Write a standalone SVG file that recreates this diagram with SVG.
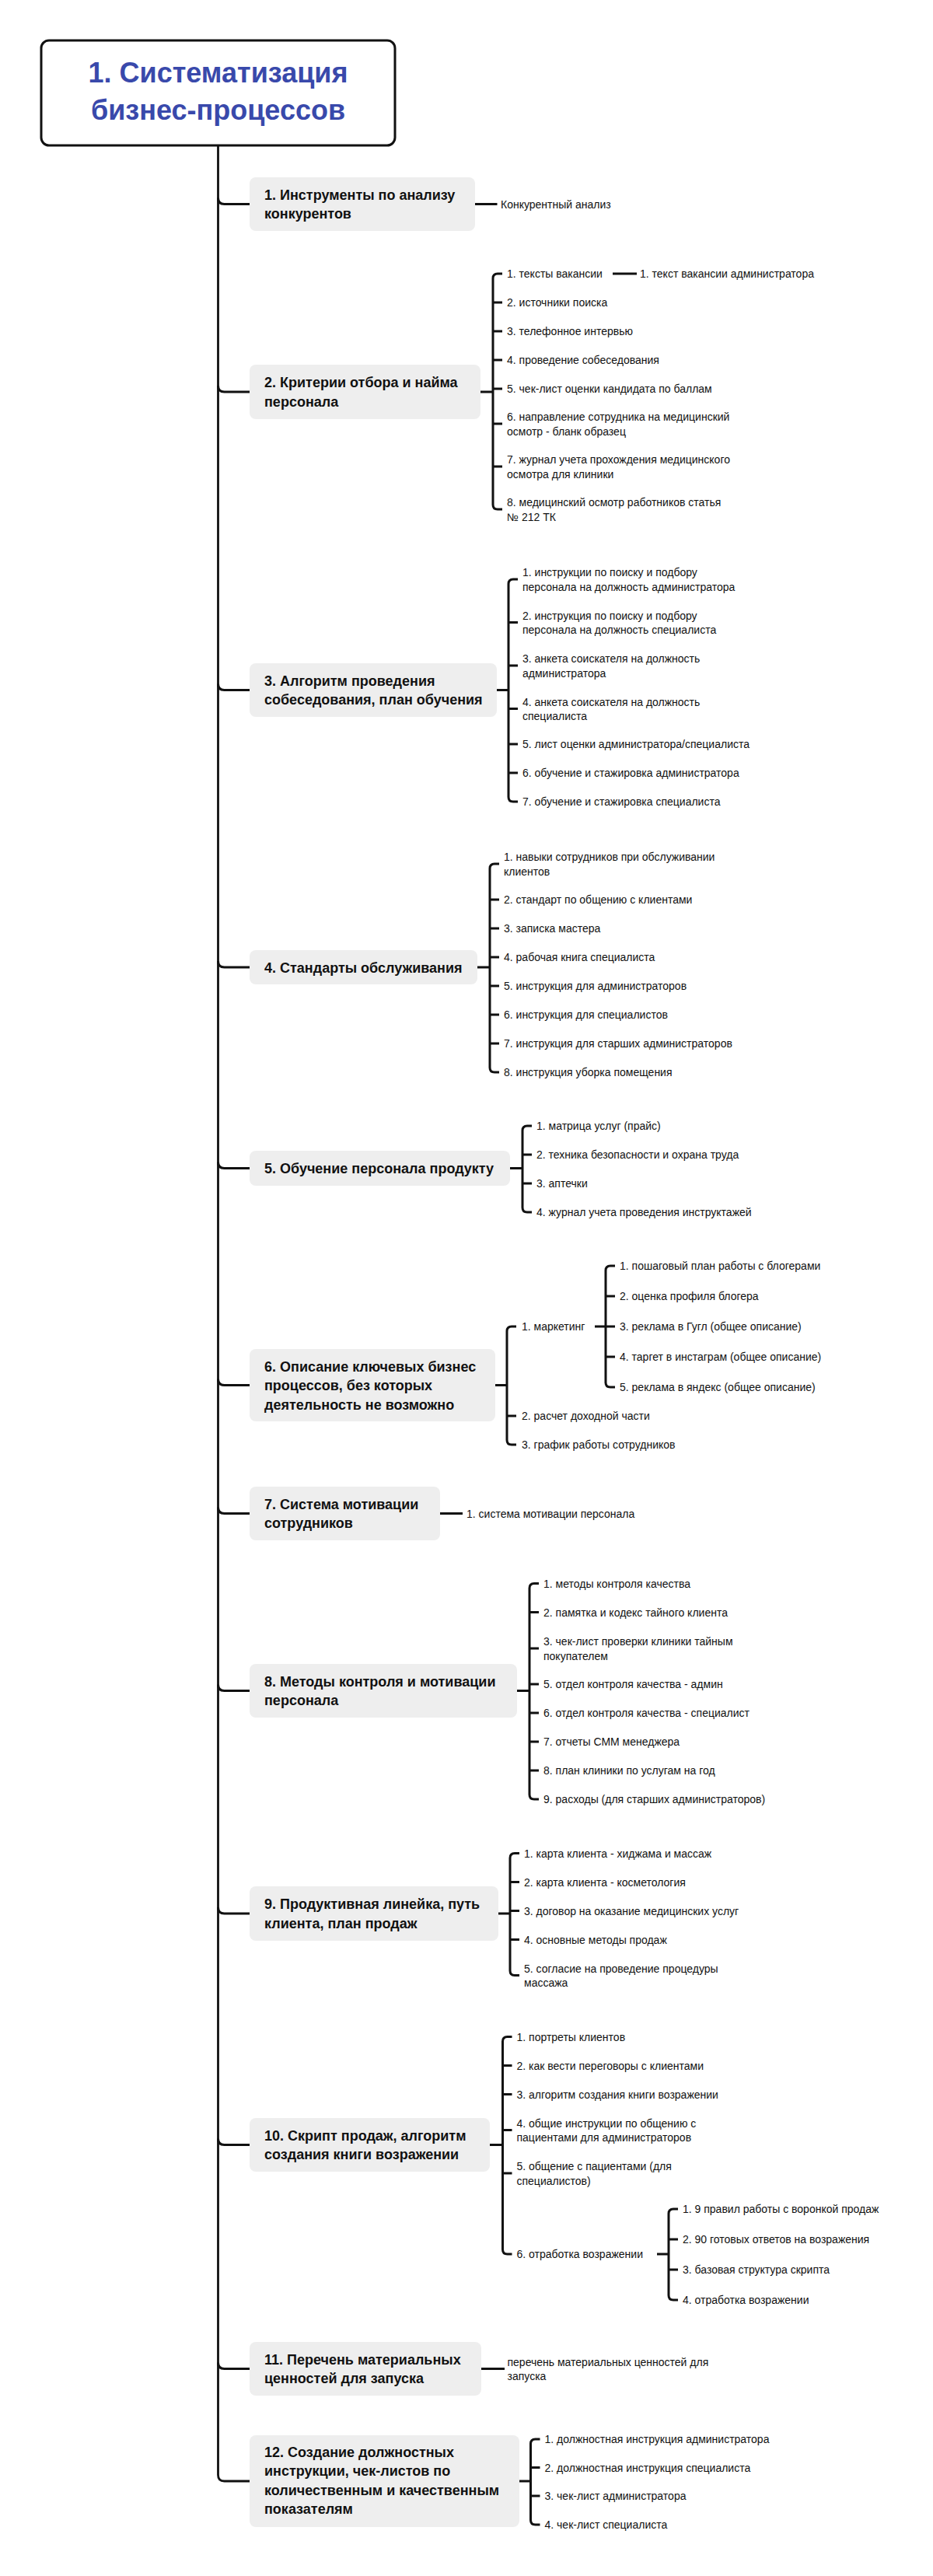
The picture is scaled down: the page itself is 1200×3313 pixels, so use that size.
<svg xmlns="http://www.w3.org/2000/svg" width="1200" height="3313" viewBox="0 0 1200 3313">
<style>
.bg{fill:#ffffff}
.box{fill:#eeeeee}
.title{fill:#ffffff;stroke:#111111;stroke-width:3}
.tt{font-family:"Liberation Sans",Arial,sans-serif;font-weight:bold;font-size:36px;fill:#3949ab;text-anchor:middle}
.nt{font-family:"Liberation Sans",Arial,sans-serif;font-weight:bold;font-size:18px;fill:#111111}
.lt{font-family:"Liberation Sans",Arial,sans-serif;font-size:14px;fill:#111111}
.c{fill:none;stroke:#111111;stroke-width:3}
.t{fill:none;stroke:#111111;stroke-width:2.8}
</style>
<rect class="bg" x="0" y="0" width="1200" height="3313"/>

<g id="connectors">
<path class="t" d="M280.5 187 V3183 Q280.5 3191 288.5 3191 H321"/>
<path class="c" d="M280.5 254.5 Q280.5 262.5 288.5 262.5 H321"/>
<path class="c" d="M280.5 496 Q280.5 504 288.5 504 H321"/>
<path class="c" d="M280.5 879.5 Q280.5 887.5 288.5 887.5 H321"/>
<path class="c" d="M280.5 1236 Q280.5 1244 288.5 1244 H321"/>
<path class="c" d="M280.5 1494.5 Q280.5 1502.5 288.5 1502.5 H321"/>
<path class="c" d="M280.5 1773.5 Q280.5 1781.5 288.5 1781.5 H321"/>
<path class="c" d="M280.5 1938.5 Q280.5 1946.5 288.5 1946.5 H321"/>
<path class="c" d="M280.5 2166.5 Q280.5 2174.5 288.5 2174.5 H321"/>
<path class="c" d="M280.5 2453 Q280.5 2461 288.5 2461 H321"/>
<path class="c" d="M280.5 2750.5 Q280.5 2758.5 288.5 2758.5 H321"/>
<path class="c" d="M280.5 3038.5 Q280.5 3046.5 288.5 3046.5 H321"/>

<!-- node 1 -->
<path class="c" d="M611 262.5 H639.5"/>
<!-- node 2 -->
<path class="c" d="M618 504 H634 M634 358 V649 M634 358 Q634 352 640 352 H646 M634 389 H646 M634 426 H646 M634 463 H646 M634 500 H646 M634 545 H646 M634 600 H646 M634 649 Q634 655 640 655 H646"/>
<path class="c" d="M788 352 H819"/>
<!-- node 3 -->
<path class="c" d="M639 887.5 H654 M654 751 V1025 M654 751 Q654 745 660 745 H666 M654 800.5 H666 M654 856 H666 M654 911.5 H666 M654 957 H666 M654 994 H666 M654 1025 Q654 1031 660 1031 H666"/>
<!-- node 4 -->
<path class="c" d="M614 1244 H630 M630 1117 V1373 M630 1117 Q630 1111 636 1111 H642 M630 1157 H642 M630 1194 H642 M630 1231 H642 M630 1268 H642 M630 1305 H642 M630 1342 H642 M630 1373 Q630 1379 636 1379 H642"/>
<!-- node 5 -->
<path class="c" d="M656 1502.5 H672 M672 1454 V1553 M672 1454 Q672 1448 678 1448 H684 M672 1485 H684 M672 1522 H684 M672 1553 Q672 1559 678 1559 H684"/>
<!-- node 6 -->
<path class="c" d="M637 1781.5 H652 M652 1712 V1852 M652 1712 Q652 1706 658 1706 H664 M652 1821 H664 M652 1852 Q652 1858 658 1858 H664"/>
<path class="c" d="M765 1706 H779 M779 1634 V1778 M779 1634 Q779 1628 785 1628 H791 M779 1667 H791 M779 1706 H791 M779 1745 H791 M779 1778 Q779 1784 785 1784 H791"/>
<!-- node 7 -->
<path class="c" d="M566 1946.5 H595"/>
<!-- node 8 -->
<path class="c" d="M665 2174.5 H681 M681 2042.5 V2308 M681 2042.5 Q681 2036.5 687 2036.5 H693 M681 2073.5 H693 M681 2120 H693 M681 2166 H693 M681 2203 H693 M681 2240 H693 M681 2277 H693 M681 2308 Q681 2314 687 2314 H693"/>
<!-- node 9 -->
<path class="c" d="M641 2461 H656 M656 2389.5 V2534.5 M656 2389.5 Q656 2383.5 662 2383.5 H668 M656 2420.5 H668 M656 2457.5 H668 M656 2494.5 H668 M656 2534.5 Q656 2540.5 662 2540.5 H668"/>
<!-- node 10 -->
<path class="c" d="M630 2758.5 H646.5 M646.5 2625.5 V2893 M646.5 2625.5 Q646.5 2619.5 652.5 2619.5 H658.5 M646.5 2656.5 H658.5 M646.5 2693.5 H658.5 M646.5 2739.5 H658.5 M646.5 2795 H658.5 M646.5 2893 Q646.5 2899 652.5 2899 H658.5"/>
<path class="c" d="M845 2899 H860 M860 2847 V2952 M860 2847 Q860 2841 866 2841 H872 M860 2880 H872 M860 2919 H872 M860 2952 Q860 2958 866 2958 H872"/>
<!-- node 11 -->
<path class="c" d="M619 3046.5 H649"/>
<!-- node 12 -->
<path class="c" d="M668 3191 H682.5 M682.5 3143 V3241 M682.5 3143 Q682.5 3137 688.5 3137 H694.5 M682.5 3173.5 H694.5 M682.5 3210 H694.5 M682.5 3241 Q682.5 3247 688.5 3247 H694.5"/>
</g>

<g id="root">
<rect class="title" x="53" y="52" width="455" height="135" rx="10"/>
<text class="tt" x="280.5" y="106">1. Систематизация</text>
<text class="tt" x="280.5" y="154">бизнес-процессов</text>
</g>

<g id="n1">
<rect class="box" x="321" y="228" width="290" height="69" rx="8"/>
<text class="nt" x="340" y="256.5">1. Инструменты по анализу</text>
<text class="nt" x="340" y="281">конкурентов</text>
<text class="lt" x="644" y="267.5">Конкурентный анализ</text>
</g>

<g id="n2">
<rect class="box" x="321" y="469" width="297" height="70" rx="8"/>
<text class="nt" x="340" y="498">2. Критерии отбора и найма</text>
<text class="nt" x="340" y="522.5">персонала</text>
<text class="lt" x="652" y="357">1. тексты вакансии</text>
<text class="lt" x="823" y="357">1. текст вакансии администратора</text>
<text class="lt" x="652" y="394">2. источники поиска</text>
<text class="lt" x="652" y="431">3. телефонное интервью</text>
<text class="lt" x="652" y="468">4. проведение собеседования</text>
<text class="lt" x="652" y="505">5. чек-лист оценки кандидата по баллам</text>
<text class="lt" x="652" y="541">6. направление сотрудника на медицинский</text>
<text class="lt" x="652" y="559.5">осмотр - бланк образец</text>
<text class="lt" x="652" y="596">7. журнал учета прохождения медицинского</text>
<text class="lt" x="652" y="614.5">осмотра для клиники</text>
<text class="lt" x="652" y="651">8. медицинский осмотр работников статья</text>
<text class="lt" x="652" y="669.5">№ 212 ТК</text>
</g>

<g id="n3">
<rect class="box" x="321" y="853" width="318" height="69" rx="8"/>
<text class="nt" x="340" y="881.5">3. Алгоритм проведения</text>
<text class="nt" x="340" y="906">собеседования, план обучения</text>
<text class="lt" x="672" y="741">1. инструкции по поиску и подбору</text>
<text class="lt" x="672" y="759.5">персонала на должность администратора</text>
<text class="lt" x="672" y="796.5">2. инструкция по поиску и подбору</text>
<text class="lt" x="672" y="815">персонала на должность специалиста</text>
<text class="lt" x="672" y="852">3. анкета соискателя на должность</text>
<text class="lt" x="672" y="870.5">администратора</text>
<text class="lt" x="672" y="907.5">4. анкета соискателя на должность</text>
<text class="lt" x="672" y="926">специалиста</text>
<text class="lt" x="672" y="962">5. лист оценки администратора/специалиста</text>
<text class="lt" x="672" y="999">6. обучение и стажировка администратора</text>
<text class="lt" x="672" y="1036">7. обучение и стажировка специалиста</text>
</g>

<g id="n4">
<rect class="box" x="321" y="1222" width="293" height="44" rx="8"/>
<text class="nt" x="340" y="1250.5">4. Стандарты обслуживания</text>
<text class="lt" x="648" y="1107">1. навыки сотрудников при обслуживании</text>
<text class="lt" x="648" y="1125.5">клиентов</text>
<text class="lt" x="648" y="1162">2. стандарт по общению с клиентами</text>
<text class="lt" x="648" y="1199">3. записка мастера</text>
<text class="lt" x="648" y="1236">4. рабочая книга специалиста</text>
<text class="lt" x="648" y="1273">5. инструкция для администраторов</text>
<text class="lt" x="648" y="1310">6. инструкция для специалистов</text>
<text class="lt" x="648" y="1347">7. инструкция для старших администраторов</text>
<text class="lt" x="648" y="1384">8. инструкция уборка помещения</text>
</g>

<g id="n5">
<rect class="box" x="321" y="1480" width="335" height="45" rx="8"/>
<text class="nt" x="340" y="1509">5. Обучение персонала продукту</text>
<text class="lt" x="690" y="1453">1. матрица услуг (прайс)</text>
<text class="lt" x="690" y="1490">2. техника безопасности и охрана труда</text>
<text class="lt" x="690" y="1527">3. аптечки</text>
<text class="lt" x="690" y="1564">4. журнал учета проведения инструктажей</text>
</g>

<g id="n6">
<rect class="box" x="321" y="1735" width="316" height="93" rx="8"/>
<text class="nt" x="340" y="1763.5">6. Описание ключевых бизнес</text>
<text class="nt" x="340" y="1788">процессов, без которых</text>
<text class="nt" x="340" y="1812.5">деятельность не возможно</text>
<text class="lt" x="671" y="1711">1. маркетинг</text>
<text class="lt" x="797" y="1633">1. пошаговый план работы с блогерами</text>
<text class="lt" x="797" y="1672">2. оценка профиля блогера</text>
<text class="lt" x="797" y="1711">3. реклама в Гугл (общее описание)</text>
<text class="lt" x="797" y="1750">4. таргет в инстаграм (общее описание)</text>
<text class="lt" x="797" y="1789">5. реклама в яндекс (общее описание)</text>
<text class="lt" x="671" y="1826">2. расчет доходной части</text>
<text class="lt" x="671" y="1863">3. график работы сотрудников</text>
</g>

<g id="n7">
<rect class="box" x="321" y="1912" width="245" height="69" rx="8"/>
<text class="nt" x="340" y="1940.5">7. Система мотивации</text>
<text class="nt" x="340" y="1965">сотрудников</text>
<text class="lt" x="600" y="1951.5">1. система мотивации персонала</text>
</g>

<g id="n8">
<rect class="box" x="321" y="2140" width="344" height="69" rx="8"/>
<text class="nt" x="340" y="2168.5">8. Методы контроля и мотивации</text>
<text class="nt" x="340" y="2193">персонала</text>
<text class="lt" x="699" y="2041.5">1. методы контроля качества</text>
<text class="lt" x="699" y="2078.5">2. памятка и кодекс тайного клиента</text>
<text class="lt" x="699" y="2116">3. чек-лист проверки клиники тайным</text>
<text class="lt" x="699" y="2134.5">покупателем</text>
<text class="lt" x="699" y="2171">5. отдел контроля качества - админ</text>
<text class="lt" x="699" y="2208">6. отдел контроля качества - специалист</text>
<text class="lt" x="699" y="2245">7. отчеты СММ менеджера</text>
<text class="lt" x="699" y="2282">8. план клиники по услугам на год</text>
<text class="lt" x="699" y="2319">9. расходы (для старших администраторов)</text>
</g>

<g id="n9">
<rect class="box" x="321" y="2426" width="320" height="70" rx="8"/>
<text class="nt" x="340" y="2455">9. Продуктивная линейка, путь</text>
<text class="nt" x="340" y="2479.5">клиента, план продаж</text>
<text class="lt" x="674" y="2388.5">1. карта клиента - хиджама и массаж</text>
<text class="lt" x="674" y="2425.5">2. карта клиента - косметология</text>
<text class="lt" x="674" y="2462.5">3. договор на оказание медицинских услуг</text>
<text class="lt" x="674" y="2499.5">4. основные методы продаж</text>
<text class="lt" x="674" y="2536.5">5. согласие на проведение процедуры</text>
<text class="lt" x="674" y="2555">массажа</text>
</g>

<g id="n10">
<rect class="box" x="321" y="2724" width="309" height="69" rx="8"/>
<text class="nt" x="340" y="2752.5">10. Скрипт продаж, алгоритм</text>
<text class="nt" x="340" y="2777">создания книги возражении</text>
<text class="lt" x="664.5" y="2624.5">1. портреты клиентов</text>
<text class="lt" x="664.5" y="2661.5">2. как вести переговоры с клиентами</text>
<text class="lt" x="664.5" y="2698.5">3. алгоритм создания книги возражении</text>
<text class="lt" x="664.5" y="2735.5">4. общие инструкции по общению с</text>
<text class="lt" x="664.5" y="2754">пациентами для администраторов</text>
<text class="lt" x="664.5" y="2791">5. общение с пациентами (для</text>
<text class="lt" x="664.5" y="2809.5">специалистов)</text>
<text class="lt" x="664.5" y="2904">6. отработка возражении</text>
<text class="lt" x="878" y="2846">1. 9 правил работы с воронкой продаж</text>
<text class="lt" x="878" y="2885">2. 90 готовых ответов на возражения</text>
<text class="lt" x="878" y="2924">3. базовая структура скрипта</text>
<text class="lt" x="878" y="2963">4. отработка возражении</text>
</g>

<g id="n11">
<rect class="box" x="321" y="3012" width="298" height="69" rx="8"/>
<text class="nt" x="340" y="3040.5">11. Перечень материальных</text>
<text class="nt" x="340" y="3065">ценностей для запуска</text>
<text class="lt" x="652.5" y="3042.5">перечень материальных ценностей для</text>
<text class="lt" x="652.5" y="3061">запуска</text>
</g>

<g id="n12">
<rect class="box" x="321" y="3132" width="347" height="118" rx="8"/>
<text class="nt" x="340" y="3160">12. Создание должностных</text>
<text class="nt" x="340" y="3184.3">инструкции, чек-листов по</text>
<text class="nt" x="340" y="3208.6">количественным и качественным</text>
<text class="nt" x="340" y="3233">показателям</text>
<text class="lt" x="700.5" y="3142">1. должностная инструкция администратора</text>
<text class="lt" x="700.5" y="3178.5">2. должностная инструкция специалиста</text>
<text class="lt" x="700.5" y="3215">3. чек-лист администратора</text>
<text class="lt" x="700.5" y="3252">4. чек-лист специалиста</text>
</g>
</svg>
